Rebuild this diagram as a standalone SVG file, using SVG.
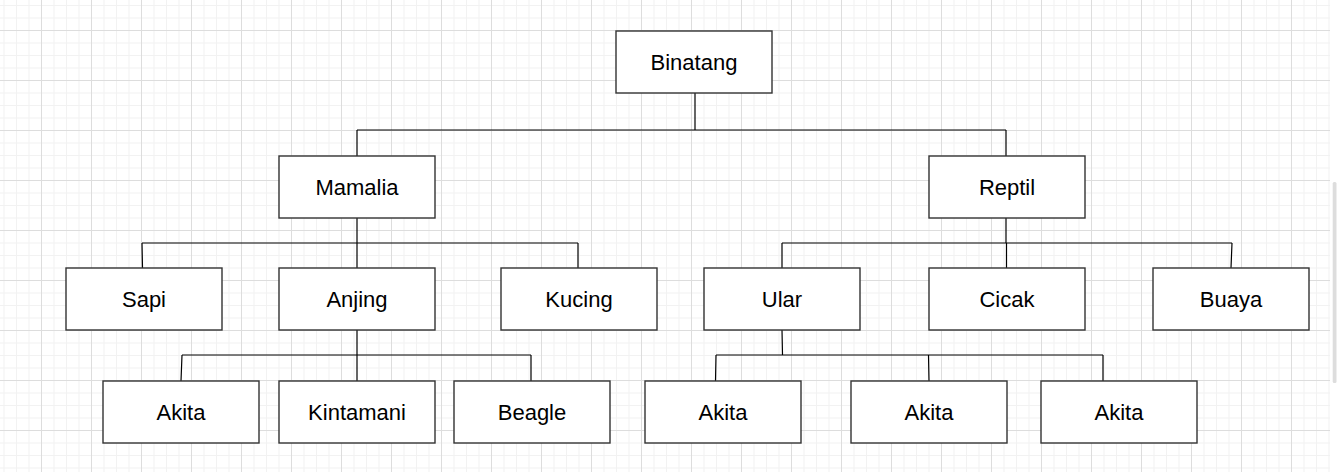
<svg xmlns="http://www.w3.org/2000/svg" width="1337" height="472" viewBox="0 0 1337 472">
<defs>
<pattern id="grid" patternUnits="userSpaceOnUse" x="41" y="30" width="50" height="50">
<rect x="0" y="0" width="50" height="50" fill="#ffffff"/>
<g fill="#f2f2f2">
<rect x="12.5" y="0" width="1" height="50"/><rect x="25" y="0" width="1" height="50"/><rect x="37.5" y="0" width="1" height="50"/>
<rect x="0" y="12.5" width="50" height="1"/><rect x="0" y="25" width="50" height="1"/><rect x="0" y="37.5" width="50" height="1"/>
</g>
<g fill="#dddddd">
<rect x="0" y="0" width="1" height="50"/><rect x="0" y="0" width="50" height="1"/>
</g>
</pattern>
<style>
.box{fill:#ffffff;stroke:#333333;stroke-width:1.4}
.lbl{font-family:"Liberation Sans",Arial,sans-serif;font-size:22px;fill:#000000;text-anchor:middle}
.conn{fill:none;stroke:#000000;stroke-width:1.2}
</style>
</defs>
<rect x="0" y="0" width="1337" height="472" fill="url(#grid)"/>
<rect x="1330" y="0" width="7" height="472" fill="#ffffff"/>
<rect x="1332.7" y="182" width="3.8" height="201" rx="1.5" fill="#dddddd"/>

<g id="connectors">
<path class="conn" d="M695 93V130M357 130H1006M357 130V156M1006 130V156"/>
<path class="conn" d="M357 218V243M142 243H578M142 243L142.5 268M357 243V268M578 243V268"/>
<path class="conn" d="M1006 218V243M782 243H1232M782 243V268M1006.5 243V268M1232 243L1231 268"/>
<path class="conn" d="M357 330V355M182 355H531M182 355L181 381M357 355V381M531 355V381"/>
<path class="conn" d="M782 330L782.5 355M716 355H1103M716 355L715.5 381M928.5 355L929 381M1103 355V381"/>
</g>

<g id="binatang"><rect class="box" x="616" y="31" width="156" height="62"/><text class="lbl" x="694" y="70">Binatang</text></g>
<g id="mamalia"><rect class="box" x="279" y="156" width="156" height="62"/><text class="lbl" x="357" y="195">Mamalia</text></g>
<g id="reptil"><rect class="box" x="929" y="156" width="156" height="62"/><text class="lbl" x="1007" y="195">Reptil</text></g>

<g id="sapi"><rect class="box" x="66" y="268" width="156" height="62"/><text class="lbl" x="144" y="307">Sapi</text></g>
<g id="anjing"><rect class="box" x="279" y="268" width="156" height="62"/><text class="lbl" x="357" y="307">Anjing</text></g>
<g id="kucing"><rect class="box" x="501" y="268" width="156" height="62"/><text class="lbl" x="579" y="307">Kucing</text></g>
<g id="ular"><rect class="box" x="704" y="268" width="156" height="62"/><text class="lbl" x="782" y="307">Ular</text></g>
<g id="cicak"><rect class="box" x="929" y="268" width="156" height="62"/><text class="lbl" x="1007" y="307">Cicak</text></g>
<g id="buaya"><rect class="box" x="1153" y="268" width="156" height="62"/><text class="lbl" x="1231" y="307">Buaya</text></g>

<g id="akita1"><rect class="box" x="103" y="381" width="156" height="62"/><text class="lbl" x="181" y="420">Akita</text></g>
<g id="kintamani"><rect class="box" x="279" y="381" width="156" height="62"/><text class="lbl" x="357" y="420">Kintamani</text></g>
<g id="beagle"><rect class="box" x="454" y="381" width="156" height="62"/><text class="lbl" x="532" y="420">Beagle</text></g>
<g id="akita2"><rect class="box" x="645" y="381" width="156" height="62"/><text class="lbl" x="723" y="420">Akita</text></g>
<g id="akita3"><rect class="box" x="851" y="381" width="156" height="62"/><text class="lbl" x="929" y="420">Akita</text></g>
<g id="akita4"><rect class="box" x="1041" y="381" width="156" height="62"/><text class="lbl" x="1119" y="420">Akita</text></g>
</svg>
